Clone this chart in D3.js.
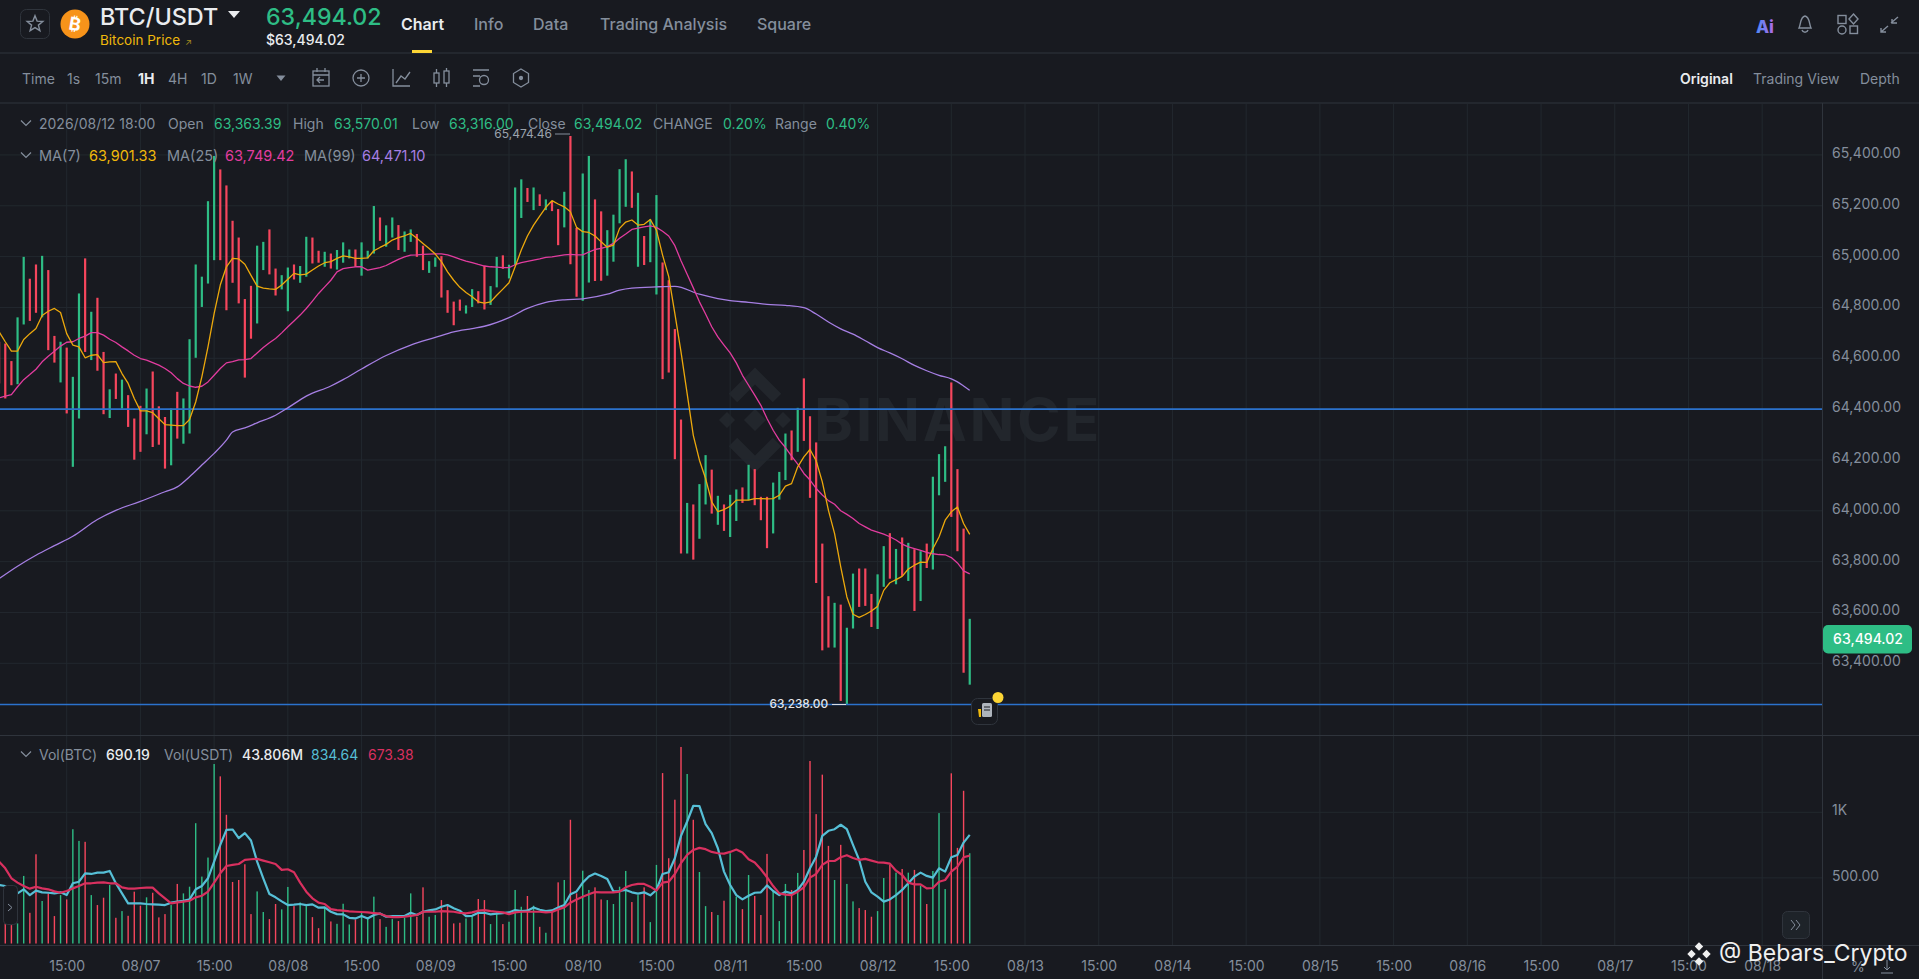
<!DOCTYPE html>
<html><head><meta charset="utf-8"><title>BTC/USDT</title>
<script src="https://cdn.jsdelivr.net/npm/d3@7"></script>
<style>html,body{margin:0;padding:0;background:#181a20;overflow:hidden}svg{display:block}text{font-family:Inter,"Noto Sans",sans-serif}</style>
</head><body><svg id="c" width="1919" height="979"></svg>
<script>
const directions="rrrggrrgrr"+"grggrgrrgr"+"grrrgrrrgr"+"ggggggrrrr"+"rrggrrggrg"+"grrgrgggrg"+"ggrggrggrr"+"ggrrrrggrr"+"ggrgggrgrg"+"rrgrrggrrg"+"gggrgrggrr"+"rrgrggrgrg"+"grgrrrgggr"+"grrrrrgrgg"+"rrrggrgrgr"+"grgggrrrg";
const highs=[64665,64658,64589,64761,64999,64913,64969,65003,64947,64688,64665,64642,64527,64855,64993,64783,64838,64625,64478,64540,64516,64455,64363,64413,64481,64548,64411,64369,64402,64468,64442,64675,64969,64921,65218,65396,65343,65280,65141,65075,64833,64885,65043,65058,65107,64953,64927,64957,64969,64963,65078,65075,65023,65019,65012,65026,65056,65028,65028,65056,65023,65199,65154,65123,65154,65124,65099,65107,65089,65043,64982,64997,65002,64868,64823,64831,64808,64872,64864,64964,64884,64999,65005,64968,65272,65304,65270,65272,65245,65225,65216,65187,65255,65474.46,65113,65327,65396,65225,65178,65104,65165,65344,65383,65335,65251,65081,65146,65242,64977,64907,64715,64359,64031,64025,64105,64219,64162,64059,64025,64063,64084,64092,64181,64164,64055,64055,64111,64153,64304,64316,64405,64521,64372,64269,63871,63664,63638,63631,63540,63753,63773,63773,63673,63750,63861,63912,63850,63895,63874,63849,63841,63871,64134,64223,64254,64505,64164,63930,63575];
const lows=[64501,64442,64494,64498,64733,64747,64779,64761,64632,64583,64505,64383,64173,64363,64625,64593,64551,64380,64365,64440,64402,64330,64201,64232,64301,64251,64260,64166,64179,64284,64264,64304,64602,64802,64894,64986,64986,64789,64897,64816,64524,64677,64737,64947,64930,64847,64871,64785,64910,64897,64921,64973,64976,64960,64953,64949,64976,64993,64960,64925,64993,65012,65062,65039,65075,65026,65019,65058,64999,64947,64936,64960,64839,64779,64730,64787,64776,64802,64816,64792,64810,64879,64952,64914,64967,65152,65215,65183,65199,65183,65179,65045,65115,64970,64842,64826,64898,64904,64905,64925,64980,65131,65196,65192,64960,64967,64978,64851,64518,64544,64203,63832,63832,63808,63890,64025,63989,63945,63921,63897,63960,64031,64042,64022,63963,63853,63911,64044,64121,64199,64232,64275,64051,63716,63451,63462,63462,63252,63238,63537,63622,63626,63543,63535,63701,63733,63711,63744,63724,63606,63645,63775,63769,64061,64114,63976,63841,63363,63316];
const ma7=[64704,64665,64628,64628,64674,64697,64717,64768,64785,64796,64780,64697,64652,64645,64602,64612,64614,64583,64586,64587,64540,64501,64442,64393,64393,64386,64362,64339,64337,64335,64335,64359,64428,64527,64645,64776,64888,64960,64993,64991,64970,64926,64884,64876,64873,64871,64888,64911,64934,64928,64931,64947,64963,64976,64980,64993,65003,64999,64993,64993,64995,65023,65036,65048,65065,65075,65082,65091,65072,65052,65032,65010,64980,64940,64907,64879,64859,64842,64822,64817,64822,64848,64872,64897,64960,65026,65081,65124,65159,65194,65220,65207,65196,65176,65115,65098,65095,65081,65058,65037,65045,65111,65136,65144,65124,65127,65146,65104,65006,64921,64776,64625,64461,64297,64199,64127,64035,63997,64005,64018,64042,64042,64042,64048,64048,64047,64048,64061,64097,64107,64173,64212,64241,64197,64114,64002,63910,63779,63661,63593,63581,63592,63606,63624,63687,63717,63729,63742,63771,63786,63798,63797,63851,63897,63963,63996,64015,63950,63907];
const ma25=[64444,64451,64457,64488,64516,64536,64557,64586,64608,64628,64648,64663,64665,64678,64687,64701,64701,64691,64675,64662,64645,64629,64612,64599,64593,64583,64573,64560,64543,64520,64501,64491,64486,64490,64507,64533,64560,64582,64587,64594,64595,64599,64621,64642,64661,64678,64700,64724,64747,64770,64796,64825,64855,64881,64907,64940,64953,64957,64960,64960,64947,64952,64957,64965,64977,64989,64999,65006,65007,65009,65010,65011,65011,65007,64999,64990,64982,64976,64969,64963,64960,64959,64957,64957,64968,64976,64981,64986,64991,64997,64999,65003,65007,65009,65007,65007,65018,65028,65032,65039,65052,65072,65089,65107,65112,65117,65121,65115,65100,65081,65043,64984,64931,64877,64822,64774,64724,64684,64652,64621,64582,64533,64494,64455,64415,64363,64317,64278,64249,64215,64184,64147,64121,64088,64062,64040,64026,64000,63986,63970,63950,63937,63924,63916,63908,63898,63885,63869,63858,63851,63844,63836,63831,63828,63827,63816,63795,63764,63752];
const ma99Bars=[0,3,6,9,12,16,19,23,27,29,31,33,35,37,38,40,42,45,47,50,54,56,59,63,67,71,74,77,79,83,86,89,92,95,99,101,103,107,110,114,117,119,122,125,128,131,133,135,137,139,141,143,145,147,149,151,153,155,156,157,158];
const ma99=[63733,63782,63825,63863,63900,63966,64002,64037,64075,64094,64134,64180,64226,64278,64310,64326,64346,64376,64405,64451,64491,64516,64558,64611,64652,64682,64704,64717,64726,64760,64796,64820,64830,64834,64852,64868,64876,64881,64883,64852,64835,64827,64820,64812,64808,64799,64774,64743,64716,64695,64669,64642,64621,64598,64572,64551,64533,64519,64507,64491,64474];
const volumes=[153,153,140,153,515,234,680,324,382,209,369,336,871,782,775,369,293,349,446,196,247,211,395,288,352,387,199,224,293,454,382,433,917,510,655,1368,1274,981,469,484,604,224,397,240,186,301,260,431,285,313,285,201,117,280,168,150,303,145,183,234,201,357,186,127,186,171,196,382,204,428,204,217,331,293,153,158,191,204,339,331,148,242,148,166,408,280,362,288,127,82,234,466,484,943,382,555,408,428,336,331,301,433,553,316,369,428,163,599,1299,650,1096,1498,1292,943,545,285,240,217,326,688,357,262,522,362,217,683,403,171,454,408,538,713,1391,986,1287,744,484,752,454,321,270,255,204,247,499,599,540,568,540,561,441,301,553,994,415,1297,729,1164,688];
const volFast=[446,438,408,382,413,369,403,390,387,382,390,369,459,471,535,530,540,540,553,459,382,306,306,306,301,298,296,293,311,319,326,336,413,438,497,624,752,866,869,803,841,785,624,497,377,352,321,293,296,301,293,298,273,275,242,224,222,196,191,209,191,217,229,204,209,209,209,234,217,242,252,260,280,293,268,250,209,211,234,234,222,227,232,237,255,247,250,275,257,247,252,275,293,375,397,464,510,533,515,492,397,400,408,390,380,390,367,408,530,543,650,820,930,1050,1047,910,841,726,548,446,369,336,364,387,390,443,400,369,395,382,408,471,573,662,820,859,871,905,871,752,637,471,390,357,319,336,369,408,459,510,540,515,502,573,548,657,675,769,828];
const volSlow=[624,573,497,464,438,418,433,420,413,397,387,400,420,438,459,459,464,466,459,459,428,418,418,423,426,426,382,344,306,313,319,326,352,364,395,464,535,591,599,606,637,642,645,632,619,606,561,566,543,464,395,344,311,301,262,255,250,245,242,240,237,232,227,209,201,201,204,211,217,242,242,242,247,245,242,234,229,237,250,255,247,242,237,224,237,242,242,242,242,237,240,260,275,311,336,357,375,392,390,390,390,395,428,446,454,454,433,403,464,471,530,612,675,713,729,719,698,688,685,698,716,693,642,617,566,505,438,382,372,369,395,428,502,530,599,629,629,657,673,652,637,645,632,619,617,609,555,522,464,451,451,420,423,471,484,548,586,657,670];
const priceTicks=[65400,65200,65000,64800,64600,64400,64200,64000,63800,63600,63400];
const volTicks=[500,1000];
const timeLabels=["15:00","08/07","15:00","08/08","15:00","08/09","15:00","08/10","15:00","08/11","15:00","08/12","15:00","08/13","15:00","08/14","15:00","08/15","15:00","08/16","15:00","08/17","15:00","08/18"];
const levelLines=[64400,63238];
const lastPrice=63494.02, topHigh=65474.46, bottomLow=63238.00;

const svg=d3.select("#c");
const BG="#181a20",GREEN="#2ebd85",RED="#f6465d",MUTED="#848e9c",SEP="#2f343c",GRID="#22282e";
const AX=1822.5,W=1919;
const x=d3.scaleLinear().domain([11,155]).range([66.7,951.3]);
const y=d3.scaleLinear().domain([63238,65474.46]).range([704.5,136]);
const yv=d3.scaleLinear().domain([0,1000]).range([943.5,812.3]);
const tickBars=timeLabels.map((_,i)=>11+12*i);

function text(s,px,py,opt={}){
  return svg.append("text").attr("x",px).attr("y",py).text(s)
    .attr("font-size",opt.size||14).attr("fill",opt.fill||MUTED).attr("font-weight",opt.weight||400)
    .attr("text-anchor",opt.anchor||"start").attr("font-family",opt.family||null);
}
function hline(yy,x0=0,x1=W,c=SEP,w=1){svg.append("line").attr("x1",x0).attr("x2",x1).attr("y1",yy).attr("y2",yy).attr("stroke",c).attr("stroke-width",w);}

svg.append("rect").attr("width",W).attr("height",979).attr("fill",BG);

// watermark
const wm=svg.append("g").attr("fill","none").attr("stroke","#22262c").attr("stroke-width",12);
wm.append("path").attr("d","M733 398L755 376L777 398");
wm.append("path").attr("d","M733 442L755 464L777 442");
const wmf=svg.append("g").attr("fill","#22262c");
[[755,420,11],[727,420,8],[783,420,8]].forEach(([cx,cy,s])=>wmf.append("path").attr("d",`M${cx-s} ${cy}L${cx} ${cy-s}L${cx+s} ${cy}L${cx} ${cy+s}Z`));
wmf.append("text").attr("x",814).attr("y",441).attr("font-size",59).attr("font-weight",700).attr("font-family","Inter").attr("letter-spacing",2.7).text("BINANCE");

// grid
const gridG=svg.append("g");
gridG.selectAll(".v").data(tickBars).join("line").attr("x1",d=>x(d)).attr("x2",d=>x(d)).attr("y1",104).attr("y2",945).attr("stroke",GRID);
gridG.selectAll(".h").data(priceTicks).join("line").attr("x1",0).attr("x2",AX).attr("y1",d=>y(d)).attr("y2",d=>y(d)).attr("stroke",GRID);
gridG.selectAll(".hv").data(volTicks).join("line").attr("x1",0).attr("x2",AX).attr("y1",d=>yv(d)).attr("y2",d=>yv(d)).attr("stroke",GRID);

// candles
const bars=d3.range(highs.length);
const barColor=i=>directions[i]==="g"?GREEN:RED;
svg.append("g").selectAll("rect").data(bars).join("rect")
  .attr("x",i=>x(i)-1.1).attr("width",2.2)
  .attr("y",i=>y(highs[i])).attr("height",i=>y(lows[i])-y(highs[i])).attr("fill",barColor);

// level lines
svg.append("g").selectAll("line").data(levelLines).join("line")
  .attr("x1",0).attr("x2",AX).attr("y1",d=>y(d)).attr("y2",d=>y(d)).attr("stroke","#2b72cc").attr("stroke-width",1.7);

// moving averages
const line=d3.line().x(d=>x(d[0])).y(d=>y(d[1]));
const plotLine=(pts,c,w,l=line)=>svg.append("path").attr("d",l(pts)).attr("fill","none").attr("stroke",c).attr("stroke-width",w).attr("stroke-linejoin","round");
plotLine(ma99.map((v,i)=>[ma99Bars[i],v]),"#a67fe3",1.3,d3.line().x(d=>x(d[0])).y(d=>y(d[1])).curve(d3.curveMonotoneX));
plotLine(ma25.map((v,i)=>[i,v]),"#e23c9f",1.3);
plotLine(ma7.map((v,i)=>[i,v]),"#eda90c",1.3);

// volume
svg.append("g").selectAll("rect").data(bars).join("rect")
  .attr("x",i=>x(i)-0.7).attr("width",1.4)
  .attr("y",i=>yv(volumes[i])).attr("height",i=>yv(0)-yv(volumes[i])).attr("fill",barColor);
const vLine=d3.line().x((d,i)=>x(i)).y(d=>yv(d));
svg.append("path").attr("d",vLine(volFast)).attr("fill","none").attr("stroke","#56bfd6").attr("stroke-width",2.2).attr("stroke-linejoin","round");
svg.append("path").attr("d",vLine(volSlow)).attr("fill","none").attr("stroke","#d9305f").attr("stroke-width",2.2).attr("stroke-linejoin","round");

// separators
hline(53);hline(103);hline(735.5);hline(945.5);
svg.append("line").attr("x1",AX).attr("x2",AX).attr("y1",103).attr("y2",979).attr("stroke",SEP);

// axes
const axisR=d3.axisRight(y).tickValues(priceTicks).tickSize(0).tickPadding(0).tickFormat(d3.format(",.2f"));
const gPrice=svg.append("g").attr("transform",`translate(1832,-2)`).call(axisR);
const axisV=d3.axisRight(yv).tickValues(volTicks).tickSize(0).tickPadding(0).tickFormat(d=>d>=1000?(d/1000)+"K":d3.format(".2f")(d));
const gVol=svg.append("g").attr("transform",`translate(1832,-2)`).call(axisV);
const axisT=d3.axisBottom(x).tickValues(tickBars).tickSize(0).tickPadding(0).tickFormat((d,i)=>timeLabels[i]);
const gTime=svg.append("g").attr("transform",`translate(0,961)`).call(axisT);
[gPrice,gVol,gTime].forEach(g=>{g.select(".domain").remove();g.selectAll("text").attr("fill",MUTED).attr("font-size",14).attr("font-family","Inter");});

// last price tag
svg.append("rect").attr("x",1823).attr("y",y(lastPrice)-14.5).attr("width",89).attr("height",28.5).attr("rx",5).attr("fill",GREEN);
text(d3.format(",.2f")(lastPrice),1868,y(lastPrice)+5,{size:14,fill:"#fff",anchor:"middle",weight:500});

// extrema annotations
text(d3.format(",.2f")(topHigh),552,138,{size:12,anchor:"end",fill:"#9ba3ad"});
hline(134,555,570,"#848e9c",1);
text(d3.format(",.2f")(bottomLow),828,708,{size:11.8,anchor:"end",fill:"#e3e6ea",weight:500});
hline(704.5,832,846,"#d8dce2",1);

// legends
function legend(items,yy,size=14){items.forEach(([s,px,c,w])=>text(s,px,yy,{size,fill:c||MUTED,weight:w||400}));}
function chev(px,py){svg.append("path").attr("d",`M${px-5} ${py-2.5}L${px} ${py+2.5}L${px+5} ${py-2.5}`).attr("fill","none").attr("stroke",MUTED).attr("stroke-width",1.2);}
chev(26,123);chev(26,155);chev(26,754);
legend([["2026/08/12 18:00",39],["Open",168],["63,363.39",214,GREEN],["High",293],["63,570.01",334,GREEN],["Low",412],["63,316.00",449,GREEN],["Close",528],["63,494.02",574,GREEN],["CHANGE",653],["0.20%",723,GREEN],["Range",775],["0.40%",826,GREEN]],129);
legend([["MA(7)",39],["63,901.33",89,"#f0b90b"],["MA(25)",167],["63,749.42",225,"#e23c9f"],["MA(99)",304],["64,471.10",362,"#a67fe3"]],161,14.5);
legend([["Vol(BTC)",39],["690.19",106,"#eaecef",500],["Vol(USDT)",164],["43.806M",242,"#eaecef",500],["834.64",311,"#56bfd6"],["673.38",368,"#d9305f"]],760);

// header
svg.append("rect").attr("x",20.5).attr("y",9.5).attr("width",29).attr("height",29).attr("rx",6).attr("fill","none").attr("stroke","#2f343c");
const star=d3.range(10).map(i=>{const r=i%2?3.6:8.3,a=-Math.PI/2+i*Math.PI/5;return [35+r*Math.cos(a),24+r*Math.sin(a)];});
svg.append("path").attr("d",d3.line()(star)+"Z").attr("fill","none").attr("stroke",MUTED).attr("stroke-width",1.4);
svg.append("circle").attr("cx",75).attr("cy",24).attr("r",14.5).attr("fill","#f7931a");
text("₿",75,30.5,{size:18,fill:"#fff",anchor:"middle",weight:700,family:"DejaVu Sans"}).attr("transform","rotate(10 75 24)");
text("BTC/USDT",100,25,{size:23.4,fill:"#eaecef",weight:500});
svg.append("path").attr("d","M228 11H240L234 18Z").attr("fill","#eaecef");
text("Bitcoin Price",100,45,{size:13.5,fill:"#f0b90b"});
text("↗",185,45,{size:9,fill:"#a68a1f"});
text("63,494.02",266,25,{size:23.2,fill:GREEN,weight:500});
text("$63,494.02",266,45,{size:14,fill:"#eaecef",weight:500});
[["Chart",401,"#eaecef",600],["Info",474],["Data",533],["Trading Analysis",600],["Square",757]].forEach(([s,px,c,w])=>text(s,px,30,{size:16,fill:c||MUTED,weight:w||500}));
svg.append("rect").attr("x",412).attr("y",50).attr("width",20).attr("height",3).attr("fill","#fcd535");

// toolbar
[["Time",22],["1s",67],["15m",95],["1H",138,"#eaecef",700],["4H",168],["1D",201],["1W",233]].forEach(([s,px,c,w])=>text(s,px,84,{size:14,fill:c||MUTED,weight:w||400}));
svg.append("path").attr("d","M276.5 75.5H285.5L281 81Z").attr("fill",MUTED);
const ic=svg.append("g").attr("fill","none").attr("stroke",MUTED).attr("stroke-width",1.3);
ic.append("rect").attr("x",313).attr("y",71).attr("width",16).attr("height",15);ic.append("path").attr("d","M313 75H329M317 68V72M325 68V72M324 80H317M320 77L317 80L320 83");
ic.append("circle").attr("cx",361).attr("cy",78).attr("r",8);ic.append("path").attr("d","M357 78H365M361 74V82");
ic.append("path").attr("d","M393 69V86H410M396 83L401 76L405 79L410 72");
ic.append("rect").attr("x",434).attr("y",73).attr("width",5).attr("height",10);ic.append("rect").attr("x",444).attr("y",71).attr("width",5).attr("height",12);ic.append("path").attr("d","M436.5 69V73M436.5 83V87M446.5 68V71M446.5 83V87");
ic.append("path").attr("d","M473 70H489M473 76H480M473 86H480");ic.append("circle").attr("cx",484).attr("cy",80).attr("r",4.5);
ic.append("path").attr("d","M521 69L528.5 73.5V82.5L521 87L513.5 82.5V73.5Z");ic.append("circle").attr("cx",521).attr("cy",78).attr("r",1.5).attr("fill",MUTED);
[["Original",1680,"#eaecef",600],["Trading View",1753],["Depth",1860]].forEach(([s,px,c,w])=>text(s,px,84,{size:14,fill:c||MUTED,weight:w||400}));

// top right icons
const grad=svg.append("defs").append("linearGradient").attr("id","ai");grad.append("stop").attr("offset","0").attr("stop-color","#4d8bf5");grad.append("stop").attr("offset","1").attr("stop-color","#b26be8");
text("Ai",1756,33,{size:17,fill:"url(#ai)",weight:800});
const tr=svg.append("g").attr("fill","none").attr("stroke",MUTED).attr("stroke-width",1.4);
tr.append("path").attr("d","M1799 28C1801 24 1800 17 1805 16C1810 17 1809 24 1811 28ZM1802 30C1803 33 1807 33 1808 30");
tr.append("rect").attr("x",1838).attr("y",15.5).attr("width",8).attr("height",8);tr.append("path").attr("d","M1853.5 14L1858 19L1853.5 24L1849 19Z");
tr.append("circle").attr("cx",1842).attr("cy",30).attr("r",4);tr.append("rect").attr("x",1850).attr("y",26).attr("width",7.5).attr("height",7.5);
tr.append("path").attr("d","M1881 32L1888 26M1881 28V32H1886M1898 17L1891 23M1892 19V23H1897");

// side buttons
svg.append("rect").attr("x",3.5).attr("y",885.5).attr("width",14).attr("height",39).attr("rx",4).attr("fill",BG).attr("stroke","#2f343c");
svg.append("path").attr("d","M8 904L12 907.5L8 911").attr("fill","none").attr("stroke",MUTED);
svg.append("rect").attr("x",1782.5).attr("y",911.5).attr("width",27).attr("height",27).attr("rx",5).attr("fill","#1e2329").attr("stroke","#2f343c");
svg.append("path").attr("d","M1791 920L1795 925L1791 930M1796 920L1800 925L1796 930").attr("fill","none").attr("stroke",MUTED);

// news marker
svg.append("rect").attr("x",971.5).attr("y",698.5).attr("width",26).attr("height",26).attr("rx",6).attr("fill",BG).attr("stroke","#2f343c");
svg.append("rect").attr("x",982).attr("y",703).attr("width",10).attr("height",14).attr("rx",1.5).attr("fill","#aeb4bc");
svg.append("path").attr("d","M984 707H990M984 710H990").attr("stroke",BG).attr("stroke-width",1.2);
svg.append("path").attr("d","M978 709H981V717H979Z").attr("fill","#f0b90b");
svg.append("circle").attr("cx",998).attr("cy",697.5).attr("r",5.5).attr("fill","#fcd535");

// bottom corner
text("%",1851,972,{size:14});
svg.append("path").attr("d","M1887 960V970M1884 967L1887 970L1890 967M1881 973H1893").attr("fill","none").attr("stroke",MUTED);
// author watermark
const au=svg.append("g").attr("fill","#f0f0f0");
[[0,-7.5,4.2],[-7.5,0,4.2],[7.5,0,4.2],[0,7.5,4.2]].forEach(([dx,dy,s])=>au.append("path").attr("d",`M${1699+dx-s} ${954+dy}L${1699+dx} ${954+dy-s}L${1699+dx+s} ${954+dy}L${1699+dx} ${954+dy+s}Z`));
text("@ Bebars_Crypto",1719,961,{size:23,fill:"#f0f0f0"});
</script></body></html>
